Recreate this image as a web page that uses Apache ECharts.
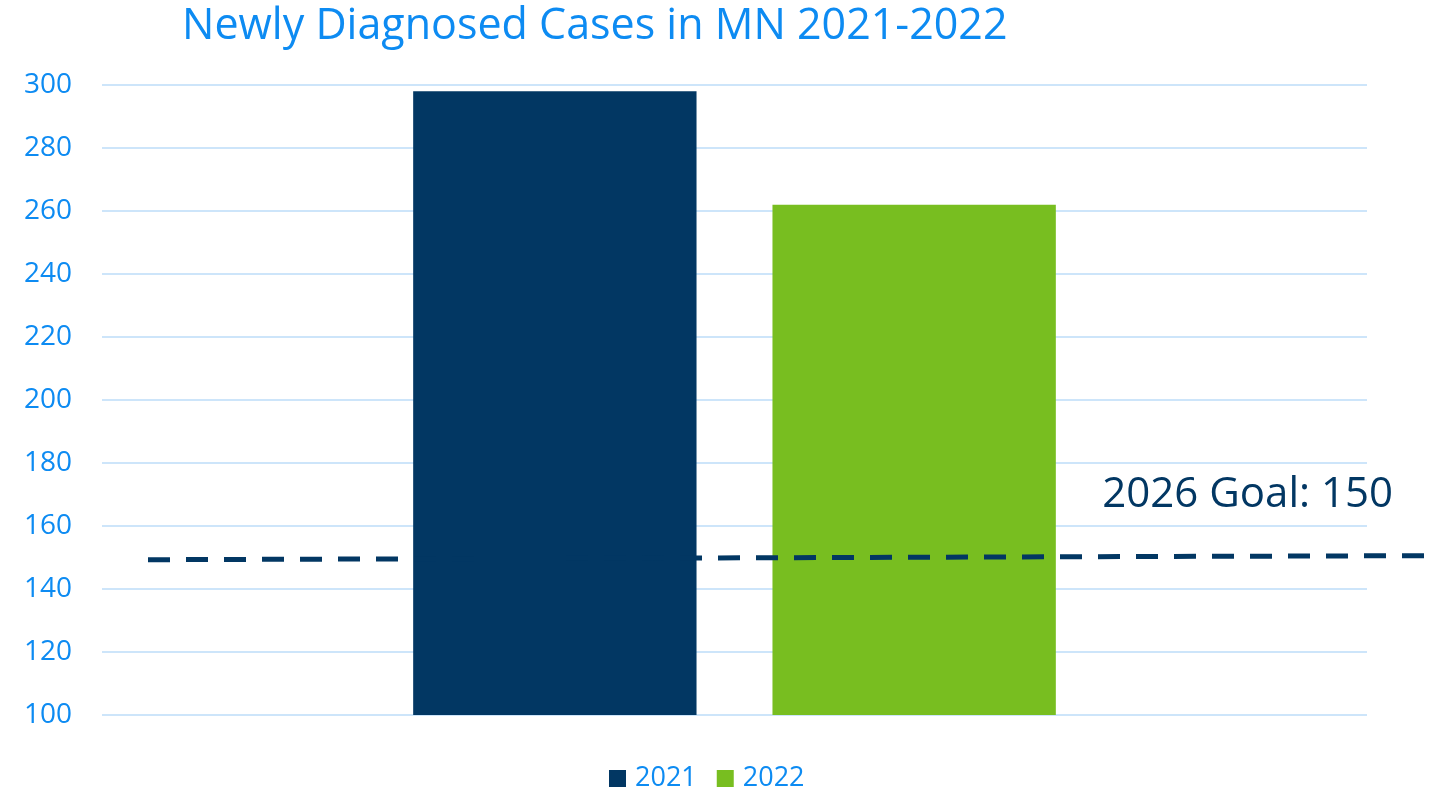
<!DOCTYPE html>
<html>
<head>
<meta charset="utf-8">
<title>Newly Diagnosed Cases in MN 2021-2022</title>
<script src="https://cdn.jsdelivr.net/npm/echarts@6/dist/echarts.min.js"></script>
<style>
	html, body { margin: 0; padding: 0; background: #fff; }
	#chart { width: 1434px; height: 789px; }
</style>
</head>
<body>
<div id="chart"></div>
<script>
	// data
	var categories = [''];
	var seriesNames = ['2021', '2022'];
	var cases2021 = [298];
	var cases2022 = [262];
	var goalEnds = ['start', 'end'];
	var goalValues = [149.3, 150.6]; // hand-drawn goal line, slightly tilted
	var yTicks = { min: 100, max: 300, step: 20 };

	var blue = '#0d8bf2';
	var navy = '#023763';
	var green = '#78be20';
	var font = '"Open Sans", "Noto Sans", sans-serif';

	var chart = echarts.init(document.getElementById('chart'));

	var option = {
		animation: false,
		title: {
			text: 'Newly Diagnosed Cases in MN 2021-2022',
			left: 177,
			top: 0,
			textStyle: {
				color: blue,
				fontFamily: font,
				fontWeight: 'normal',
				fontSize: 43
			}
		},
		legend: {
			data: seriesNames,
			left: 604,
			top: 760,
			icon: 'rect',
			itemWidth: 17,
			itemHeight: 17,
			itemGap: 20,
			textStyle: {
				color: blue,
				fontFamily: font,
				fontSize: 27,
				padding: [0, 0, 0, 4]
			}
		},
		grid: [
			{ left: 102, right: 67, top: 85, bottom: 74 },
			// goal line runs past the plot area, so it gets its own grid
			{ left: 148, right: 0, top: 85, bottom: 74 }
		],
		xAxis: [{
			type: 'category',
			data: categories,
			axisLine: { show: false },
			axisTick: { show: false },
			axisLabel: { show: false }
		}, {
			type: 'category',
			gridIndex: 1,
			data: goalEnds,
			boundaryGap: false,
			show: false
		}],
		yAxis: [{
			type: 'value',
			min: yTicks.min,
			max: yTicks.max,
			interval: yTicks.step,
			axisLine: { show: false },
			axisTick: { show: false },
			axisLabel: {
				color: blue,
				fontFamily: font,
				fontSize: 28,
				margin: 30
			},
			splitLine: {
				lineStyle: { color: '#cde5fa', width: 2 }
			}
		}, {
			type: 'value',
			gridIndex: 1,
			min: yTicks.min,
			max: yTicks.max,
			show: false
		}],
		graphic: [{
			type: 'text',
			right: 41,
			top: 474,
			style: {
				text: '2026 Goal: 150',
				fill: navy,
				font: '42px ' + font
			}
		}],
		series: [{
			name: seriesNames[0],
			type: 'bar',
			data: cases2021,
			barWidth: '22.4%',
			barGap: '26.8%',
			itemStyle: { color: navy }
		}, {
			name: seriesNames[1],
			type: 'bar',
			data: cases2022,
			barWidth: '22.4%',
			itemStyle: { color: green }
		}, {
			name: 'Goal',
			type: 'line',
			xAxisIndex: 1,
			yAxisIndex: 1,
			data: goalValues,
			symbol: 'none',
			z: 5,
			lineStyle: {
				color: navy,
				width: 5,
				type: [22, 16]
			}
		}]
	};

	chart.setOption(option);
</script>
</body>
</html>
